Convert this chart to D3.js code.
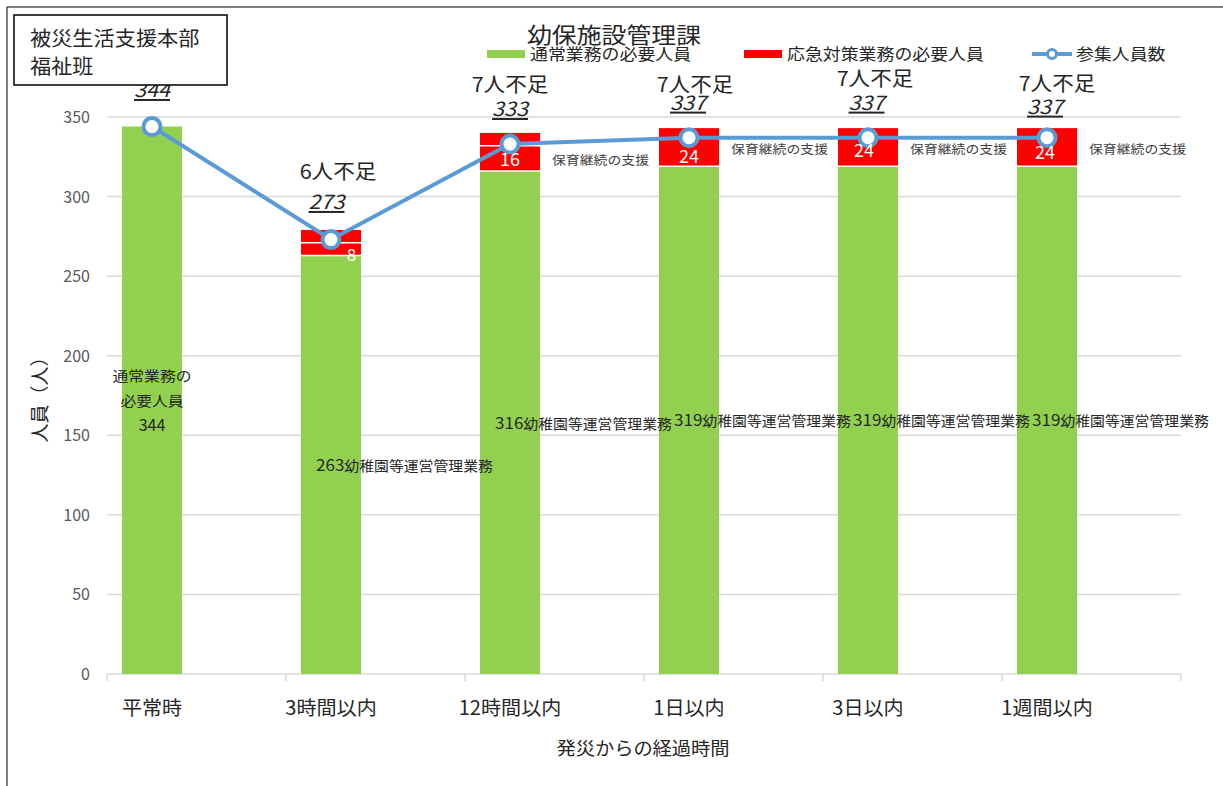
<!DOCTYPE html>
<html><head><meta charset="utf-8">
<script src="https://cdn.jsdelivr.net/npm/d3@7"></script>
<style>body{margin:0;background:#fff}svg{display:block}text{font-family:"Noto Sans CJK JP","Noto Sans",sans-serif}</style>
</head><body><svg id="c" width="1223" height="786"></svg>
<script>
const categories = ["平常時","3時間以内","12時間以内","1日以内","3日以内","1週間以内"];
const normalNeed = [344,263,316,319,319,319];
const emergencyNeedA = [0,8,16,24,24,24];
const emergencyNeedB = [0,8,8,0,0,0];
const attendees = [344,273,333,337,337,337];
const shortageLabels = ["","6人不足","7人不足","7人不足","7人不足","7人不足"];
const normalLabels = ["","幼稚園等運営管理業務","幼稚園等運営管理業務","幼稚園等運営管理業務","幼稚園等運営管理業務","幼稚園等運営管理業務"];
const emergencyLabels = ["","","保育継続の支援","保育継続の支援","保育継続の支援","保育継続の支援"];
const yTicks = [0,50,100,150,200,250,300,350];

const svg = d3.select("#c");
const x = d3.scaleBand().domain(categories).range([62.5,1136.5]);
const y = d3.scaleLinear().domain([0,350]).range([674,117]);
const cx = c => x(c) + x.bandwidth()/2;
const bw = 60;
const GREEN="#92D050", RED="#FF0000", BLUE="#5B9BD5", INK="#262626";

function txt(px, py, str, size, o={}){
  const t = svg.append("text")
    .attr("transform",`translate(${px},${py}) scale(${o.sx||1},1)`)
    .attr("text-anchor",o.anchor||"start").attr("font-size",size)
    .attr("fill",o.fill||INK);
  if(o.italic) t.attr("font-style","italic");
  if(o.underline) t.attr("text-decoration","underline");
  t.text(str);
  return t;
}

// outer border
svg.append("path").attr("d","M7,786 V7 H1223").attr("fill","none").attr("stroke","#000").attr("stroke-width",1);

// gridlines
svg.append("g").selectAll("line").data(yTicks).join("line")
  .attr("x1",107).attr("x2",1181).attr("y1",d=>y(d)).attr("y2",d=>y(d))
  .attr("stroke","#D9D9D9").attr("stroke-width",1.5);
// y labels
yTicks.forEach(d=>txt(90,y(d)+6,d,16,{anchor:"end",fill:"#595959"}));
// x ticks at category boundaries
const xb = d3.scaleBand().domain(categories).range([107,1181]);
svg.append("g").selectAll("line").data(categories.concat(["_end"])).join("line")
  .attr("x1",(d,i)=>xb.range()[0]+i*xb.step()).attr("x2",(d,i)=>xb.range()[0]+i*xb.step())
  .attr("y1",674).attr("y2",681).attr("stroke","#D9D9D9").attr("stroke-width",1.5);
// x labels
categories.forEach(c=>txt(cx(c),715,c,19.5,{anchor:"middle",sx:1.03}));
// axis titles
txt(643,755,"発災からの経過時間",18,{anchor:"middle",sx:1.07});
svg.append("text").attr("transform","translate(47,395) rotate(-90)").attr("text-anchor","middle").attr("font-size",19).attr("fill",INK).text("人員（人）");

// bars
const g = svg.append("g");
categories.forEach((c,i)=>{
  const b0 = normalNeed[i], b1 = b0+emergencyNeedA[i], b2 = b1+emergencyNeedB[i];
  g.append("rect").attr("x",cx(c)-bw/2).attr("width",bw).attr("y",y(b0)).attr("height",y(0)-y(b0)).attr("fill",GREEN);
  if(emergencyNeedA[i]>0) g.append("rect").attr("x",cx(c)-bw/2).attr("width",bw).attr("y",y(b1)).attr("height",y(b0)-y(b1)).attr("fill",RED);
  if(emergencyNeedB[i]>0) g.append("rect").attr("x",cx(c)-bw/2).attr("width",bw).attr("y",y(b2)).attr("height",y(b1)-y(b2)).attr("fill",RED);
  if(emergencyNeedA[i]>0) g.append("line").attr("x1",cx(c)-bw/2).attr("x2",cx(c)+bw/2).attr("y1",y(b0)).attr("y2",y(b0)).attr("stroke","#fff").attr("stroke-width",1.5);
  if(emergencyNeedB[i]>0) g.append("line").attr("x1",cx(c)-bw/2).attr("x2",cx(c)+bw/2).attr("y1",y(b1)).attr("y2",y(b1)).attr("stroke","#fff").attr("stroke-width",1.5);
});

// green labels
categories.forEach((c,i)=>{
  const my = y(normalNeed[i]/2);
  if(i===0){
    txt(cx(c),my-19,"通常業務の",14,{anchor:"middle",sx:1.13});
    txt(cx(c),my+6,"必要人員",14,{anchor:"middle",sx:1.13});
    txt(cx(c),my+31,normalNeed[i],16,{anchor:"middle"});
  } else {
    const t = svg.append("text").attr("transform",`translate(${cx(c)-15},${my+6}) scale(1.1,1)`)
      .attr("font-size",15.5).attr("fill",INK);
    t.append("tspan").text(normalNeed[i]);
    t.append("tspan").attr("font-size",13.5).text(normalLabels[i]);
  }
});

// line
svg.append("path").datum(attendees).attr("fill","none").attr("stroke",BLUE).attr("stroke-width",4)
  .attr("d",d3.line().x((d,i)=>cx(categories[i])).y(d=>y(d)));
svg.append("g").selectAll("circle").data(attendees).join("circle")
  .attr("cx",(d,i)=>cx(categories[i])).attr("cy",d=>y(d)).attr("r",8.5)
  .attr("fill","#fff").attr("stroke",BLUE).attr("stroke-width",4);

// red labels (drawn over the line as in the reference)
const redDx = [0,20.5,0,0,-4,-2];
const redDy = [0,12,8,16,10,12];
categories.forEach((c,i)=>{
  if(emergencyNeedA[i]>0){
    const my = y(normalNeed[i]+emergencyNeedA[i]/2);
    txt(cx(c)+redDx[i],my+redDy[i],emergencyNeedA[i],i===1?17:18,{anchor:"middle",fill:"#fff"});
  }
  if(emergencyLabels[i]){
    txt(cx(c)+42,y(normalNeed[i]+emergencyNeedA[i]/2)+6.5,emergencyLabels[i],12.5,{sx:1.11,fill:"#404040"});
  }
});

// attendee labels & shortage labels
const numDy = [-29.5,-30.5,-28,-28,-28,-24];
const numDx = [0,-4.5,0,-1,-1.5,-2];
const shortDy = [0,-60.5,-52,-46,-52,-47];
const shortDx = [0,7,0,6,7,10];
attendees.forEach((v,i)=>{
  const c = categories[i];
  txt(cx(c)+numDx[i],y(v)+numDy[i],v,20,{anchor:"middle",italic:true,underline:true,sx:1.08});
  if(shortageLabels[i]) txt(cx(c)+shortDx[i],y(v)+shortDy[i],shortageLabels[i],20,{anchor:"middle",sx:1.08});
});

// title & legend
txt(614,43,"幼保施設管理課",22,{anchor:"middle",sx:1.13});
const legend = [
  {label:"通常業務の必要人員", color:GREEN, x:487, type:"rect"},
  {label:"応急対策業務の必要人員", color:RED, x:744, type:"rect"},
  {label:"参集人員数", color:BLUE, x:1032, type:"line"}
];
legend.forEach(l=>{
  if(l.type==="rect") svg.append("rect").attr("x",l.x).attr("y",50).attr("width",38).attr("height",8).attr("fill",l.color);
  else {
    svg.append("line").attr("x1",l.x).attr("x2",l.x+40).attr("y1",54).attr("y2",54).attr("stroke",l.color).attr("stroke-width",4);
    svg.append("circle").attr("cx",l.x+20).attr("cy",54).attr("r",4.5).attr("fill","#fff").attr("stroke",l.color).attr("stroke-width",3);
  }
  txt(l.x+(l.type==="rect"?43:44),60,l.label,16,{sx:1.12});
});

// top-left box
svg.append("rect").attr("x",14).attr("y",15).attr("width",213).attr("height",70).attr("fill","#fff").attr("stroke","#000").attr("stroke-width",1.5);
txt(30,46,"被災生活支援本部",20,{sx:1.06});
txt(30,74,"福祉班",20,{sx:1.06});
</script></body></html>
